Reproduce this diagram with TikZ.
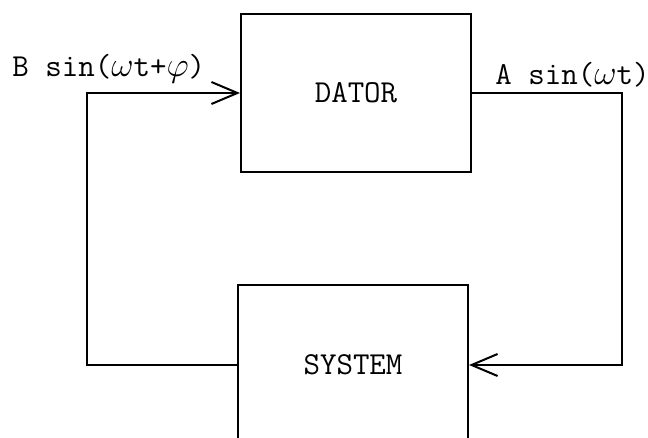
\documentclass[tikz,border=0pt]{standalone}
\usepackage{tikz}
\usetikzlibrary{arrows.meta,positioning}
\tikzset{
  >={Straight Barb[length=13pt,width=11pt]},
  unit/.style={
    draw, rectangle, align=center, line width=1pt,
    minimum width=115pt, minimum height=79pt,
    font=\fontsize{16}{19}\selectfont\ttfamily
  },
  sig/.style={
    inner sep=0pt, anchor=base west,
    font=\fontsize{16}{19}\selectfont\ttfamily
  },
  wire/.style={line width=1pt},
}
\begin{document}
\begin{tikzpicture}[x=0.5pt, y=-0.5pt]
  \useasboundingbox (0,0) rectangle (648,438);
  \node[unit] (dator) at (356,93) {DATOR};
  \node[unit, minimum height=80pt] (system) at (353,365) {SYSTEM};
  \node[sig] (labb) at (12,77) {B sin($\omega$t+$\varphi$)};
  \node[sig] (laba) at (495,85) {A sin($\omega$t)};
  \coordinate (rc) at (622,230);
  \coordinate (lc) at (87,230);
  \draw[wire, ->] (dator.east) -| (rc) |- (system.east);
  \draw[wire, ->] (system.west) -| (lc) |- (dator.west);
\end{tikzpicture}
\end{document}
